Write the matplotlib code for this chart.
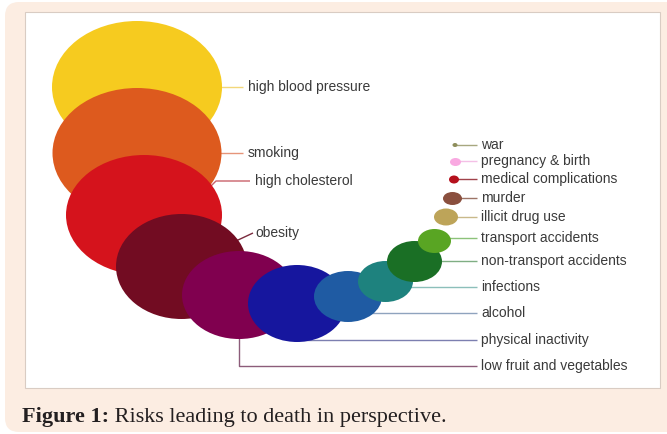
import matplotlib.pyplot as plt
from matplotlib.patches import Ellipse, FancyBboxPatch, Rectangle

# Risk bubbles, largest first (positions/sizes, pixel units)
risks = ["high blood pressure", "smoking", "high cholesterol", "obesity",
         "low fruit and vegetables", "physical inactivity", "alcohol",
         "infections", "non-transport accidents", "transport accidents",
         "illicit drug use", "murder", "medical complications",
         "pregnancy & birth", "war"]
colors = ["#F6CB1F", "#DD5A1E", "#D5131C", "#720C22", "#80004F", "#16169E",
          "#1F5BA3", "#1E827E", "#1A6F25", "#59A523", "#BDA459", "#8A4F3E",
          "#B5101D", "#F9A9E1", "#8E8E5C"]
line_colors = ["#F3D77A", "#E6957A", "#C9616A", "#7A2A3D", "#8C5C7A", "#7C7FB0",
               "#8FA3BE", "#8CBFBA", "#7FAE83", "#8CC27A", "#C9B98A", "#9C7466",
               "#A0424A", "#F4C0E6", "#A7A77F"]
cx = [137, 137, 144, 181.5, 239, 297, 348, 385.5, 414.5, 434.5, 446, 452.5, 454, 455.5, 455]
cy = [87, 153, 215, 266.5, 295, 303.5, 296.5, 281.5, 261.5, 241, 217, 198.5, 179.5, 162, 145]
widths = [170, 169, 156, 131, 114, 98, 68, 55, 55, 33, 24, 19, 10, 11, 5]
heights = [132, 130, 120, 105, 88, 77, 51, 41, 41, 24, 17, 13, 8, 8, 4]

# label placement
label_y = [87, 153, 181, 233, 366, 340, 313, 287, 261, 238, 217, 198, 179, 161, 145]
line_end = [243, 243, 250, 253] + [477] * 11
label_x = [248, 248, 255, 255] + [481] * 11
# special leader starts/knees (start_x, start_y, knee_x, knee_y)
knees = {"high cholesterol": (176, 221, 216, 181),
         "obesity": (181.5, 266.5, 253, 233)}

caption_bold = "Figure 1:"
caption_rest = " Risks leading to death in perspective."

W, H = 667, 434
fig = plt.figure(figsize=(W / 100, H / 100), dpi=100, facecolor="white")
ax = fig.add_axes([0, 0, 1, 1])
ax.set_xlim(0, W)
ax.set_ylim(H, 0)
ax.axis("off")

# beige frame + white panel
ax.add_patch(FancyBboxPatch((5, 2), W + 20, H - 4, boxstyle="round,pad=0,rounding_size=14",
                            fc="#FCEDE2", ec="none", zorder=0))
ax.add_patch(Rectangle((25, 12), 635, 376, fc="white", ec="#D9CCC3", lw=0.8, zorder=0.5))

# leader lines (under the bubbles)
for i, name in enumerate(risks):
    if name in knees:
        sx, sy, kx, ky = knees[name]
        xs, ys = [sx, kx, line_end[i]], [sy, ky, label_y[i]]
    else:
        xs = [cx[i], cx[i], line_end[i]]
        ys = [cy[i], label_y[i], label_y[i]]
    ax.plot(xs, ys, color=line_colors[i], lw=1.0, zorder=2, solid_capstyle="butt")
    ax.text(label_x[i], label_y[i], name, fontsize=10, family="Liberation Sans",
            color="#3A3A3A", va="center", ha="left", zorder=5)

for i in range(len(risks)):
    ax.add_patch(Ellipse((cx[i], cy[i]), widths[i], heights[i], fc=colors[i],
                         ec="none", zorder=3 + i * 0.01))

# caption
t1 = ax.text(22, 422, caption_bold, fontsize=16, family="Liberation Serif",
             weight="bold", color="#231F20", va="baseline", ha="left")
ax.annotate(caption_rest, xy=(1, 0), xycoords=t1, fontsize=16,
            family="Liberation Serif", color="#231F20", va="bottom", ha="left")

fig.savefig("out.png", dpi=100, facecolor="white")
